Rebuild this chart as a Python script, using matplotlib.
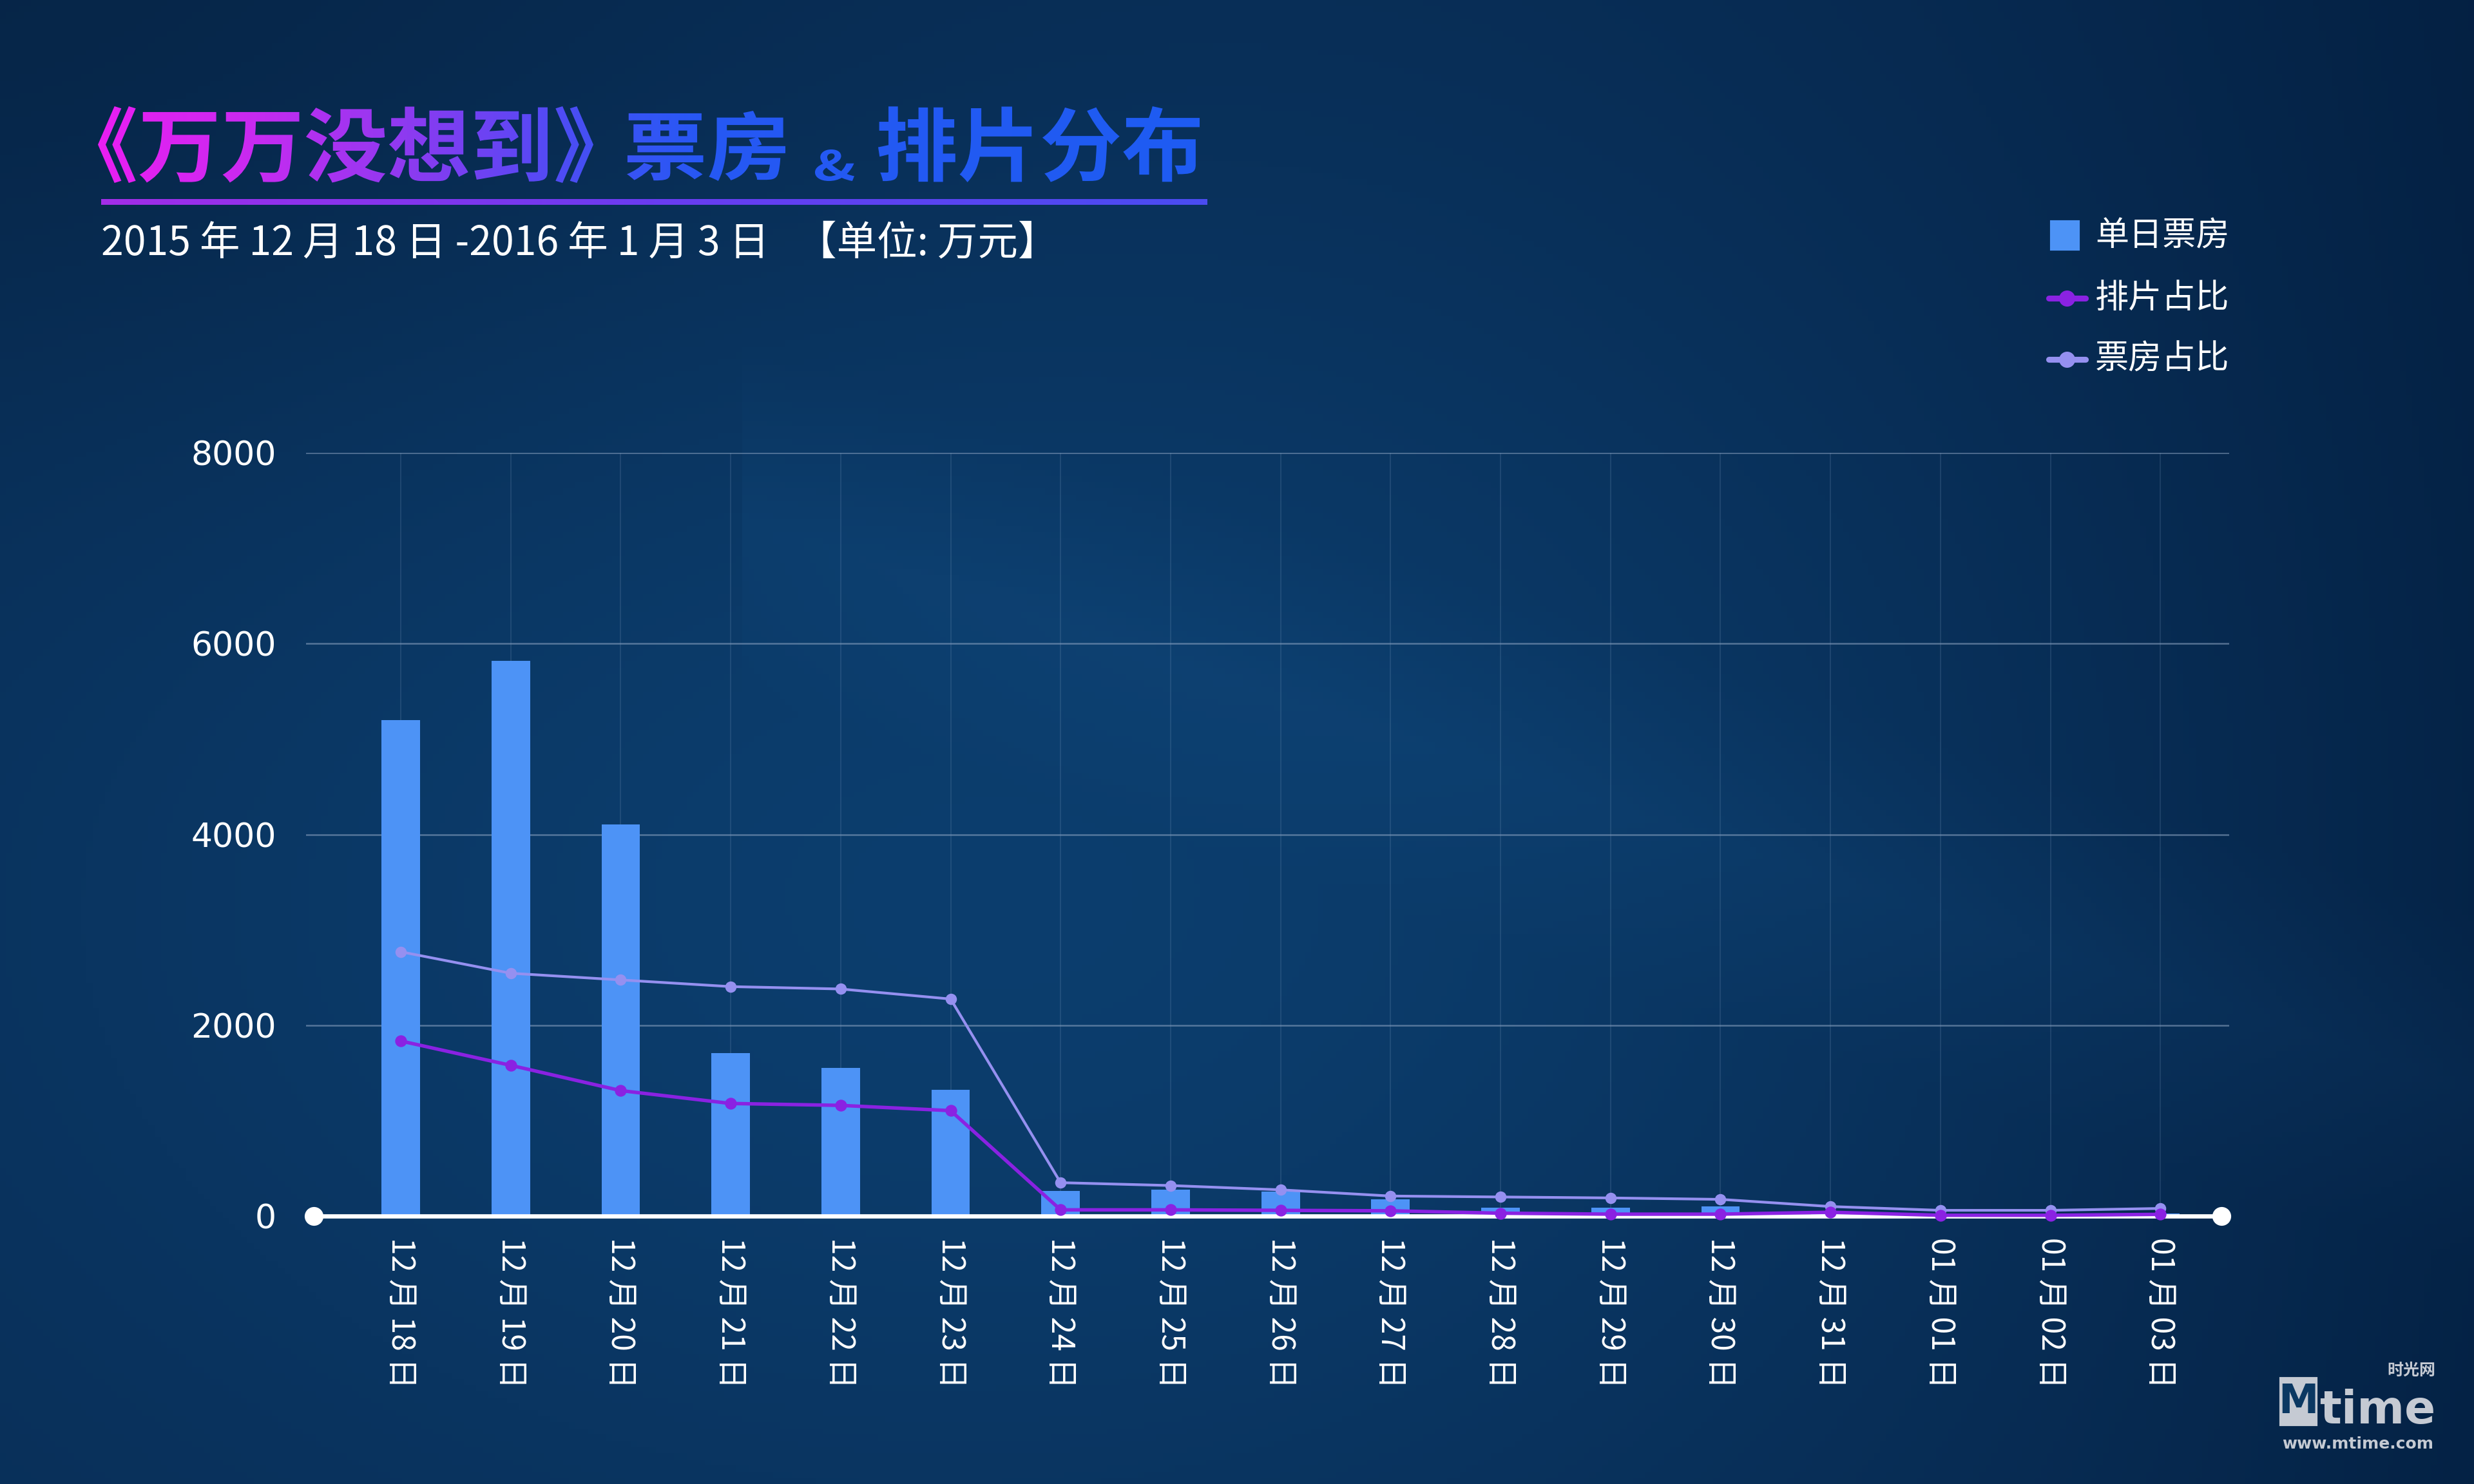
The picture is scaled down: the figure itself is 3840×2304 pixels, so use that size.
import numpy as np
import matplotlib
matplotlib.use('Agg')
import matplotlib.pyplot as plt
from matplotlib.textpath import TextPath
from matplotlib.patches import PathPatch, Rectangle
from matplotlib.path import Path
from matplotlib.font_manager import FontProperties
from matplotlib.transforms import Affine2D
from matplotlib.colors import LinearSegmentedColormap

plt.rcParams['font.family'] = ['Noto Sans CJK SC', 'DejaVu Sans']

# data (万元)
dates = ['12 月 18 日', '12 月 19 日', '12 月 20 日', '12 月 21 日', '12 月 22 日',
         '12 月 23 日', '12 月 24 日', '12 月 25 日', '12 月 26 日', '12 月 27 日',
         '12 月 28 日', '12 月 29 日', '12 月 30 日', '12 月 31 日', '01 月 01 日',
         '01 月 02 日', '01 月 03 日']
daily_box = [5195, 5820, 4105, 1710, 1555, 1320, 260, 280, 255, 175, 90, 90, 100, 40, 20, 20, 25]
screen_share = [1835, 1580, 1315, 1180, 1160, 1105, 65, 65, 60, 55, 30, 20, 20, 40, 8, 8, 18]
box_share = [2770, 2545, 2475, 2405, 2380, 2275, 350, 320, 275, 210, 200, 190, 175, 100, 60, 60, 80]
yticks = [0, 2000, 4000, 6000, 8000]

title_parts = ['《万万没想到》', '票房', '&', '排片分布']
subtitle = '2015 年 12 月 18 日 -2016 年 1 月 3 日   【单位: 万元】'
legend_labels = ['单日票房', '排片占比', '票房占比']

BAR_C = '#4d93f6'
PURPLE = '#8a22e2'
LAVENDER = '#9590f0'

W, H = 3840, 2304
fig = plt.figure(figsize=(12.8, 7.68), dpi=300)

# ---- background
bg = fig.add_axes([0, 0, 1, 1])
bg.set_axis_off()
yy, xx = np.mgrid[0:1:240j, 0:1:400j]
base = np.array([8, 44, 84]) / 255.
light = np.array([4, 18, 26]) / 255.
glow = np.exp(-(((xx - 0.42) ** 2) / 0.22 + ((yy - 0.6) ** 2) / 0.25))
dark_tl = np.exp(-((xx ** 2) / 0.12 + (yy ** 2) / 0.08))
dark_r = xx ** 4
band = np.clip(1 - np.abs((yy - 0.35) - 0.55 * (xx - 0.3)) / 0.12, 0, 1) * (xx > 0.3)
img = (base[None, None, :]
       + light[None, None, :] * glow[..., None]
       - np.array([2, 8, 14])[None, None, :] / 255. * dark_tl[..., None]
       - np.array([4, 12, 18])[None, None, :] / 255. * dark_r[..., None]
       + np.array([2, 5, 7])[None, None, :] / 255. * band[..., None])
bg.imshow(np.clip(img, 0, 1), extent=[0, 1, 0, 1], aspect='auto', origin='upper')
bg.set_xlim(0, 1)
bg.set_ylim(0, 1)

# ---- main chart
ax = fig.add_axes([475 / W, 1 - 1888 / H, (3460 - 475) / W, (1888 - 703) / H])
ax.patch.set_alpha(0)
for s in ax.spines.values():
    s.set_visible(False)
x = np.arange(len(dates))
ax.set_xlim(-0.861, 16.625)
ax.set_ylim(0, 8000)

for yv in yticks[1:]:
    ax.axhline(yv, color='#93a9c6', lw=0.6, alpha=0.55, zorder=1)
ax.vlines(x, 0, 8000, color='#7d9cc0', lw=0.4, alpha=0.22, zorder=1)

ax.bar(x, daily_box, width=0.35, color=BAR_C, zorder=3)
ax.plot([-0.79, 16.555], [0, 0], color='white', lw=1.6, marker='o', ms=6,
        clip_on=False, zorder=4)
ax.plot(x, box_share, color=LAVENDER, lw=1.0, marker='o', ms=3.2,
        clip_on=False, zorder=5)
ax.plot(x, screen_share, color=PURPLE, lw=1.3, marker='o', ms=3.4,
        clip_on=False, zorder=6)

ax.set_yticks(yticks)
ax.set_yticklabels([str(v) for v in yticks], family='DejaVu Sans')
ax.tick_params(axis='y', length=0, pad=11, labelsize=12.5, labelcolor='white')
ax.set_xticks(x)
ax.set_xticklabels(dates, rotation=-90, fontsize=11.5, color='white')
ax.tick_params(axis='x', length=0, pad=8)

# ---- overlay in pixel coordinates
ov = fig.add_axes([0, 0, 1, 1])
ov.set_axis_off()
ov.patch.set_alpha(0)
ov.set_xlim(0, W)
ov.set_ylim(H, 0)

fp = FontProperties(family='Noto Sans CJK SC', weight='bold')
targets = [(152, 921, 165, 284), (973, 1219, 172, 281), (1265, 1326, 232, 281), (1363, 1862, 165, 283)]
paths = []
for txt, (x0, x1, y0, y1) in zip(title_parts, targets):
    tp = TextPath((0, 0), txt, size=100, prop=fp)
    ext = tp.get_extents()
    sx = (x1 - x0) / ext.width
    sy = (y1 - y0) / ext.height
    tr = Affine2D().translate(-ext.x0, -ext.y1).scale(sx, -sy).translate(x0, y0)
    paths.append(tr.transform_path(tp))
title_path = Path.make_compound_path(*paths)
tpatch = PathPatch(title_path, facecolor='none', edgecolor='none', transform=ov.transData)
ov.add_patch(tpatch)
tcmap = LinearSegmentedColormap.from_list('t', [
    (0.0, '#ea1ef3'), (0.14, '#c82af0'), (0.26, '#9638f0'), (0.38, '#6046f4'),
    (0.46, '#3e52f4'), (0.55, '#2658f4'), (1.0, '#1e5cf2')])
grad = np.linspace(0, 1, 512)[None, :]
im = ov.imshow(grad, cmap=tcmap, extent=[150, 1865, 290, 160], aspect='auto', zorder=5)
im.set_clip_path(tpatch)

ucmap = LinearSegmentedColormap.from_list('u', ['#a22de8', '#6a3cf0', '#4a4cf0'])
ov.imshow(grad, cmap=ucmap, extent=[157, 1874, 318, 309], aspect='auto', zorder=5)
ov.set_xlim(0, W)
ov.set_ylim(H, 0)

ov.text(157, 377, subtitle, color='white', fontsize=15, va='center', ha='left')

# legend
ov.add_patch(Rectangle((3184, 344), 42, 43, color=BAR_C))
for yl, col in [(463, PURPLE), (558, LAVENDER)]:
    ov.plot([3180, 3237], [yl, yl], color=col, lw=2.2, solid_capstyle='round')
    ov.plot([3208], [yl], 'o', color=col, ms=5)
for yl, lab in zip([367, 463, 558], legend_labels):
    ov.text(3252, yl, lab, color='white', fontsize=12.5, va='center', ha='left')

# watermark
logo_c = '#c5cad3'
ov.add_patch(Rectangle((3540, 2140), 55, 72, color=logo_c))
ov.text(3567, 2177, 'M', color='#0b3862', fontsize=15, fontweight='bold',
        ha='center', va='center', family='DejaVu Sans')
ov.text(3600, 2210, 'time', color=logo_c, fontsize=17, fontweight='bold',
        ha='left', va='baseline', family='DejaVu Sans')
ov.text(3780, 2128, '时光网', color=logo_c, fontsize=6, fontweight='bold',
        ha='right', va='center')
ov.text(3660, 2242, 'www.mtime.com', color=logo_c, fontsize=6, fontweight='bold',
        ha='center', va='center', family='DejaVu Sans')

fig.savefig('out.png', dpi=300)
